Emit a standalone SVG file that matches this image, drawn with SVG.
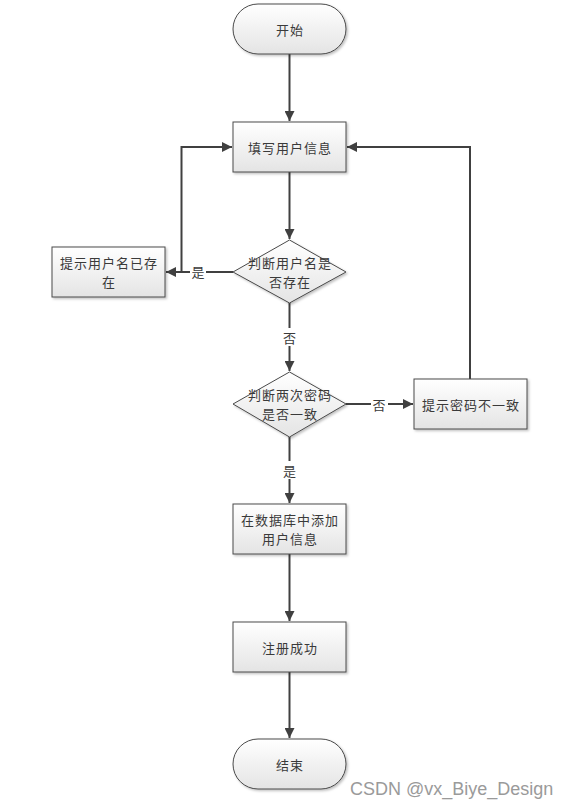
<svg xmlns="http://www.w3.org/2000/svg" width="569" height="807" viewBox="0 0 569 807">
<style>
.n{fill:url(#g);stroke:#4a4a4a;stroke-width:1;filter:url(#sh)}
.t{font-family:"Noto Sans CJK SC","Liberation Sans",sans-serif;font-size:13px;letter-spacing:1px;fill:#3a3a3a;text-anchor:middle;dominant-baseline:central}
.c{fill:none;stroke:#404040;stroke-width:2}
.lb{fill:#fff}
</style>
<defs>
<linearGradient id="g" x1="0" y1="0" x2="0" y2="1">
<stop offset="0" stop-color="#ffffff"/>
<stop offset="1" stop-color="#e4e4e4"/>
</linearGradient>
<filter id="sh" x="-10%" y="-10%" width="130%" height="140%">
<feDropShadow dx="1.5" dy="1.5" stdDeviation="1" flood-color="#000" flood-opacity="0.25"/>
</filter>
<marker id="a" viewBox="0 0 10 10" refX="10" refY="5" markerWidth="10" markerHeight="10" markerUnits="userSpaceOnUse" orient="auto">
<path d="M0,0 L10,5 L0,10 z" fill="#404040"/>
</marker>
</defs>
<rect width="569" height="807" fill="#fff"/>
<g id="connectors">
<path class="c" d="M289.5,54 V121" marker-end="url(#a)"/>
<path class="c" d="M289.5,172 V239" marker-end="url(#a)"/>
<path class="c" d="M233,272 H166" marker-end="url(#a)"/>
<path class="c" d="M181.5,272 V147 H232" marker-end="url(#a)"/>
<path class="c" d="M289.5,303 V371" marker-end="url(#a)"/>
<path class="c" d="M346,404 H413" marker-end="url(#a)"/>
<path class="c" d="M470,379 V147 H347" marker-end="url(#a)"/>
<path class="c" d="M289.5,437 V503" marker-end="url(#a)"/>
<path class="c" d="M289.5,554 V621" marker-end="url(#a)"/>
<path class="c" d="M289.5,672 V738" marker-end="url(#a)"/>
<rect class="lb" x="190" y="263" width="16" height="18"/>
<text class="t" x="198.5" y="271">是</text>
<rect class="lb" x="281" y="328" width="17" height="18"/>
<text class="t" x="290" y="337">否</text>
<rect class="lb" x="371" y="395" width="17" height="18"/>
<text class="t" x="379.5" y="404">否</text>
<rect class="lb" x="281" y="461" width="17" height="18"/>
<text class="t" x="290" y="470">是</text>
</g>
<g id="start">
<rect class="n" x="233" y="4" width="113" height="50" rx="25"/>
<text class="t" x="290" y="29">开始</text>
</g>
<g id="fill">
<rect class="n" x="233" y="122" width="113" height="50"/>
<text class="t" x="290" y="147">填写用户信息</text>
</g>
<g id="check-user">
<polygon class="n" points="289.5,240 346,272 289.5,303 233,272"/>
<text class="t" x="290" y="262">判断用户名是</text>
<text class="t" x="290" y="281">否存在</text>
</g>
<g id="user-exists">
<rect class="n" x="52" y="247" width="113" height="50"/>
<text class="t" x="109" y="262">提示用户名已存</text>
<text class="t" x="109" y="281">在</text>
</g>
<g id="check-pwd">
<polygon class="n" points="289.5,372 346,404 289.5,437 233,404"/>
<text class="t" x="290" y="394">判断两次密码</text>
<text class="t" x="290" y="413">是否一致</text>
</g>
<g id="pwd-mismatch">
<rect class="n" x="414" y="379" width="113" height="50"/>
<text class="t" x="471" y="404">提示密码不一致</text>
</g>
<g id="add-db">
<rect class="n" x="233" y="504" width="113" height="50"/>
<text class="t" x="290" y="519">在数据库中添加</text>
<text class="t" x="290" y="538">用户信息</text>
</g>
<g id="success">
<rect class="n" x="233" y="622" width="113" height="50"/>
<text class="t" x="290" y="647">注册成功</text>
</g>
<g id="end">
<rect class="n" x="233" y="739" width="113" height="50" rx="25"/>
<text class="t" x="290" y="764">结束</text>
</g>
<text x="350" y="795" font-family="Liberation Sans, Arial, sans-serif" font-size="18" fill="#9a9a9a">CSDN @vx_Biye_Design</text>
</svg>
